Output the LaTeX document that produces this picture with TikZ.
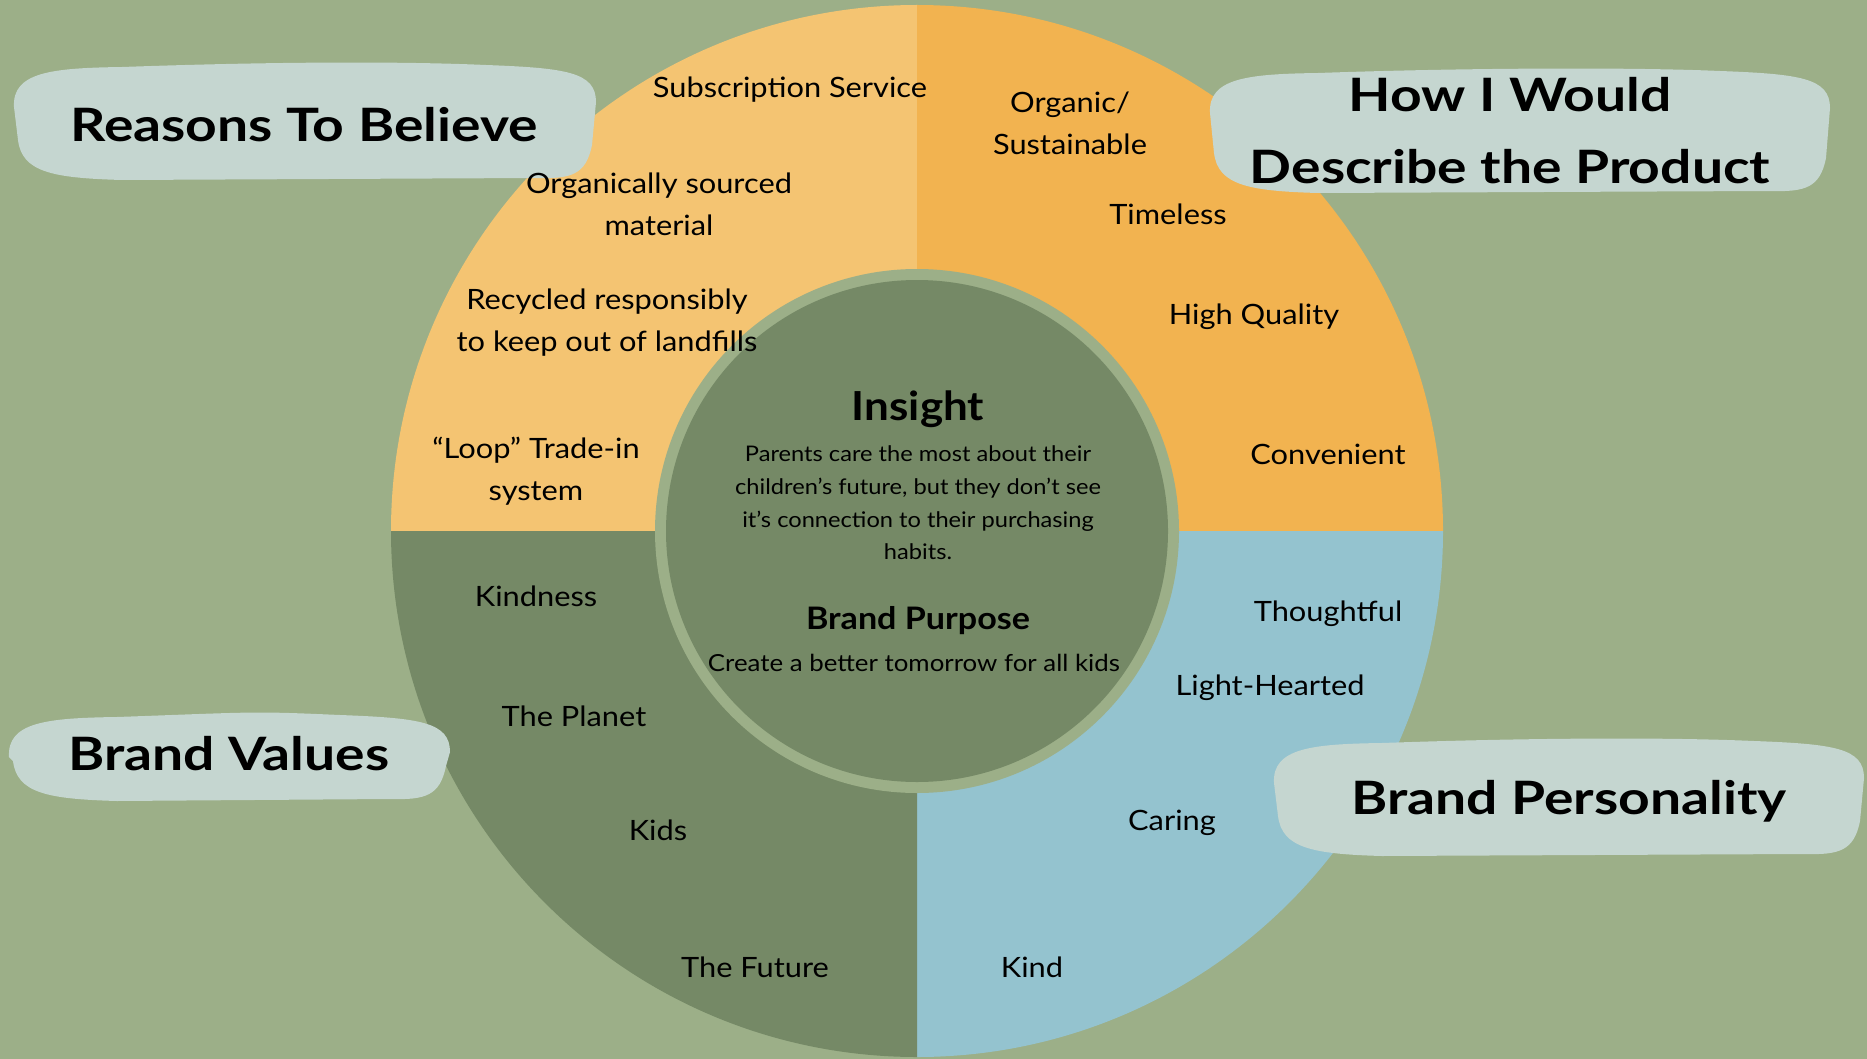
\documentclass[tikz,border=0pt]{standalone}
\usepackage{fontspec}
\setmainfont{Lato}[FakeStretch=1.1]
\newfontfamily\titlefont{Lato}[FakeStretch=1.2]
\usetikzlibrary{positioning}

\definecolor{sage}{RGB}{156,175,136}
\definecolor{moss}{RGB}{117,137,102}
\definecolor{peach}{RGB}{244,196,114}
\definecolor{amber}{RGB}{242,179,80}
\definecolor{sky}{RGB}{148,195,207}
\definecolor{mist}{RGB}{197,214,208}

% rough brush-like label patch: left top right bottom
\newcommand{\patch}[4]{%
  \fill[mist] (#1+2,#2+45)
    .. controls (#1,#2+10) and (#1+40,#2+6) .. (#1+110,#2+5)
    .. controls (#1+250,#2) and (#3-200,#2-1) .. (#3-110,#2+3)
    .. controls (#3-30,#2+6) and (#3,#2+10) .. (#3,#2+40)
    -- (#3-4,#4-35)
    .. controls (#3-10,#4-5) and (#3-25,#4-1) .. (#3-60,#4-2)
    -- (#1+110,#4)
    .. controls (#1+40,#4-2) and (#1+10,#4-8) .. (#1+6,#4-40)
    -- cycle;}

\begin{document}
\begin{tikzpicture}[x=1pt,y=-1pt,
  title/.style={font=\titlefont\bfseries\fontsize{46}{72}\selectfont,align=center},
  item/.style={font=\fontsize{28}{42}\selectfont,align=center},
  head/.style={font=\bfseries\fontsize{40}{46}\selectfont},
  body/.style={font=\fontsize{21.5}{32.6}\selectfont,align=center}]

\fill[sage] (0,0) rectangle (1867,1059);
\useasboundingbox (0,0) rectangle (1867,1059);
\coordinate (c) at (917,531);

% quarters of the wheel
\fill[peach] (c) -- ++(-526,0) arc[start angle=180,end angle=270,radius=526] -- cycle;
\fill[amber] (c) -- ++(0,-526) arc[start angle=270,end angle=360,radius=526] -- cycle;
\fill[sky] (c) -- ++(526,0) arc[start angle=0,end angle=90,radius=526] -- cycle;
\fill[moss] (c) -- ++(0,526) arc[start angle=90,end angle=180,radius=526] -- cycle;
\fill[sage] (c) circle[radius=262];
\fill[moss] (c) circle[radius=251];

% label patches
\patch{12}{62}{596}{180}
\patch{1208}{68}{1830}{193}
\patch{7}{712}{450}{801}
\patch{1272}{738}{1864}{856}

\node[title] (rtb) at (304,125) {Reasons To Believe};
\node[title] (desc) at (1510,131) {How I Would\\Describe the Product};
\node[title] (bv) at (229,754) {Brand Values};
\node[title] (bp) at (1569,801) {Brand Personality};

% reasons to believe
\node[item] (sub) at (790,90) {Subscription Service};
\node[item] (org) at (659,204) {Organically sourced\\material};
\node[item] (rec) at (607,323) {Recycled responsibly\\to keep out of landfills};
\node[item] (loop) at (536,471) {“Loop” Trade-in\\system};

% product
\node[item] (sus) at (1070,123) {Organic/\\Sustainable};
\node[item] (time) at (1168,214) {Timeless};
\node[item] (hq) at (1254,317) {High Quality};
\node[item] (conv) at (1328,454) {Convenient};

% values
\node[item] (kindness) at (536,596) {Kindness};
\node[item] (planet) at (574,716) {The Planet};
\node[item] (kids) at (658,830) {Kids};
\node[item] (future) at (755,967) {The Future};

% personality
\node[item] (thought) at (1328,614) {Thoughtful};
\node[item] (light) at (1270,688) {Light-Hearted};
\node[item] (caring) at (1172,823) {Caring};
\node[item] (kind) at (1032,967) {Kind};

% centre
\node[head] (ins) at (918,409) {Insight};
\node[body] (para) at (918,503) {Parents care the most about their\\children’s future, but they don’t see\\it’s connection to their purchasing\\habits.};
\node[head,font=\bfseries\fontsize{31}{38}\selectfont] (purp) at (918,621) {Brand Purpose};
\node[body,font=\fontsize{23.5}{30}\selectfont] (goal) at (914,663) {Create a better tomorrow for all kids};
\end{tikzpicture}
\end{document}
